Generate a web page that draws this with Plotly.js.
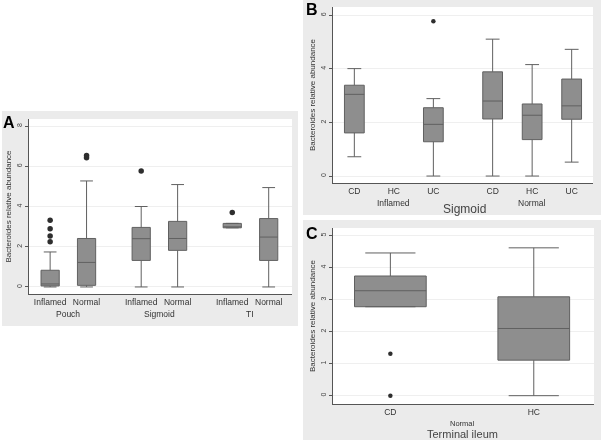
<!DOCTYPE html>
<html><head><meta charset="utf-8">
<script src="https://cdn.plot.ly/plotly-3.0.1.min.js"></script>
<style>html,body{margin:0;padding:0;background:#fff}#chart{width:601px;height:440px;will-change:transform}</style>
</head><body><div id="chart"></div>
<script>
// ---------- Panel A ----------
const aTickLabels = ['Inflamed','Normal','Inflamed','Normal','Inflamed','Normal'];
const aGroups = ['Pouch','Sigmoid','TI'];
const aLower  = [0.00, 0.00, 0.00, 0.00, 2.94, 0.00];
const aQ1     = [0.05, 0.08, 1.32, 1.82, 2.94, 1.32];
const aMedian = [0.15, 1.22, 2.40, 2.41, 2.98, 2.48];
const aQ3     = [0.83, 2.41, 2.96, 3.26, 3.16, 3.40];
const aUpper  = [1.74, 5.27, 4.00, 5.09, 3.16, 4.94];
const aOutlierBox = [0, 0, 0, 0, 1, 1, 2, 4];
const aOutlierVal = [2.25, 2.53, 2.89, 3.32, 6.42, 6.53, 5.77, 3.70];

// ---------- Panel B ----------
const bTickLabels = ['CD','HC','UC','CD','HC','UC'];
const bGroups = ['Inflamed','Normal'];
const bTitle = 'Sigmoid';
const bLower  = [0.72, null, 0.00, 0.00, 0.00, 0.52];
const bQ1     = [1.61, null, 1.28, 2.13, 1.36, 2.12];
const bMedian = [3.05, null, 1.93, 2.80, 2.27, 2.62];
const bQ3     = [3.39, null, 2.55, 3.89, 2.69, 3.62];
const bUpper  = [4.01, null, 2.89, 5.11, 4.16, 4.73];
const bOutlierBox = [2];
const bOutlierVal = [5.78];

// ---------- Panel C ----------
const cTickLabels = ['CD','HC'];
const cGroups = ['Normal'];
const cTitle = 'Terminal ileum';
const cLower  = [2.78, 0.00];
const cQ1     = [2.78, 1.11];
const cMedian = [3.28, 2.10];
const cQ3     = [3.74, 3.09];
const cUpper  = [4.46, 4.62];
const cOutlierBox = [0, 0];
const cOutlierVal = [1.31, 0.00];

const yTitle = 'Bacteroides relative abundance';

// ---------- layout helpers (positions / styling) ----------
const posA = [1, 2, 3.5, 4.5, 6, 7];
const posB = [1, 2, 3, 4.5, 5.5, 6.5];
const posC = [1, 2];
const groupIdxA = [[0,1],[2,3],[4,5]];
const groupIdxB = [[0,1,2],[3,4,5]];
const groupIdxC = [[0,1]];

const W = 601, H = 440;
const px = v => v / W;
const py = v => 1 - v / H;

const FONT = 'Arial, "Liberation Sans", sans-serif';
const boxFill = '#8e8e8e', boxLine = '#606060', outlierCol = '#2e2e2e';

const traces = [];
function addPanel(pos, lower, q1, med, q3, upper, oBox, oVal, xa, ya, msize) {
  const xs = [], l = [], a = [], m = [], b = [], u = [];
  pos.forEach((p, i) => {
    if (q1[i] === null) return;
    xs.push(p); l.push(lower[i]); a.push(q1[i]); m.push(med[i]); b.push(q3[i]); u.push(upper[i]);
  });
  traces.push({
    type: 'box', x: xs, q1: a, median: m, q3: b, lowerfence: l, upperfence: u,
    width: 0.5, whiskerwidth: 0.7, boxpoints: false,
    fillcolor: boxFill, line: {color: boxLine, width: 1},
    xaxis: xa, yaxis: ya, showlegend: false, hoverinfo: 'y'
  });
  traces.push({
    type: 'scatter', mode: 'markers',
    x: oBox.map(k => pos[k]), y: oVal,
    marker: {color: outlierCol, size: msize, symbol: 'circle'},
    xaxis: xa, yaxis: ya, showlegend: false
  });
}
addPanel(posA, aLower, aQ1, aMedian, aQ3, aUpper, aOutlierBox, aOutlierVal, 'x', 'y', 5.5);
addPanel(posB, bLower, bQ1, bMedian, bQ3, bUpper, bOutlierBox, bOutlierVal, 'x2', 'y2', 4.5);
addPanel(posC, cLower, cQ1, cMedian, cQ3, cUpper, cOutlierBox, cOutlierVal, 'x3', 'y3', 4.5);

function xAxis(domain, range, pos, labels, anchor) {
  return {
    domain: domain, range: range, anchor: anchor,
    tickmode: 'array', tickvals: pos, ticktext: labels, tickangle: 0,
    ticks: '', showgrid: false, zeroline: false,
    showline: true, linecolor: '#555', linewidth: 1,
    tickfont: {family: FONT, size: 8.5, color: '#333'}, fixedrange: true
  };
}
function yAxis(domain, range, dtick, anchor) {
  return {
    domain: domain, range: range, anchor: anchor, dtick: dtick, tick0: 0,
    ticks: 'outside', ticklen: 3, tickcolor: '#555', tickangle: -90,
    showgrid: true, gridcolor: '#efefef', zeroline: false,
    showline: true, linecolor: '#555', linewidth: 1,
    tickfont: {family: FONT, size: 7, color: '#444'},
    title: {text: yTitle, font: {family: FONT, size: 8, color: '#333'}, standoff: 3},
    fixedrange: true
  };
}

const annotations = [];
function groupLabels(groups, idx, pos, xref, yPx, size) {
  groups.forEach((g, gi) => {
    const ps = idx[gi].map(i => pos[i]);
    const c = ps.reduce((s, v) => s + v, 0) / ps.length;
    annotations.push({text: g, x: c, xref: xref, y: py(yPx), yref: 'paper',
      showarrow: false, xanchor: 'center', yanchor: 'middle',
      font: {family: FONT, size: size, color: '#333'}});
  });
}
groupLabels(aGroups, groupIdxA, posA, 'x', 314, 8.5);
groupLabels(bGroups, groupIdxB, posB, 'x2', 203, 8.5);
groupLabels(cGroups, groupIdxC, posC, 'x3', 423, 7.5);
annotations.push({text: bTitle, x: px(464), xref: 'paper', y: py(209), yref: 'paper', showarrow: false,
  xanchor: 'center', yanchor: 'middle', font: {family: FONT, size: 12, color: '#444'}});
annotations.push({text: cTitle, x: px(462), xref: 'paper', y: py(434), yref: 'paper', showarrow: false,
  xanchor: 'center', yanchor: 'middle', font: {family: FONT, size: 11, color: '#444'}});
[['A', 9, 122], ['B', 312, 10], ['C', 312, 233]].forEach(([t, x, y]) => {
  annotations.push({text: '<b>' + t + '</b>', x: px(x), xref: 'paper', y: py(y), yref: 'paper',
    showarrow: false, xanchor: 'center', yanchor: 'middle',
    font: {family: FONT, size: 16, color: '#000'}});
});

// white gutters around the grey panels
const white = (x0, y0, x1, y1) => ({type: 'rect', xref: 'paper', yref: 'paper', layer: 'below',
  x0: px(x0), x1: px(x1), y0: py(y1), y1: py(y0), fillcolor: '#fff', line: {width: 0}});
const shapes = [
  white(0, 0, 303, 111),
  white(0, 326, 303, 440),
  white(298, 0, 303, 440),
  white(303, 215, 601, 220),
  white(0, 0, 2, 440)
];

const layout = {
  width: W, height: H, margin: {l: 0, r: 0, t: 0, b: 0},
  paper_bgcolor: '#ebebeb', plot_bgcolor: '#ffffff',
  font: {family: FONT},
  showlegend: false,
  xaxis: xAxis([px(29), px(292)], [0.42, 7.64], posA, aTickLabels, 'y'),
  yaxis: yAxis([py(294), py(119)], [-0.35, 8.35], 2, 'x'),
  xaxis2: xAxis([px(333), px(593)], [0.46, 7.04], posB, bTickLabels, 'y2'),
  yaxis2: yAxis([py(183), py(7)], [-0.26, 6.31], 2, 'x2'),
  xaxis3: xAxis([px(333), px(594)], [0.60, 2.42], posC, cTickLabels, 'y3'),
  yaxis3: yAxis([py(404), py(228)], [-0.26, 5.24], 1, 'x3'),
  annotations: annotations,
  shapes: shapes
};

Plotly.newPlot('chart', traces, layout, {staticPlot: true, displayModeBar: false});
</script>
</body></html>
